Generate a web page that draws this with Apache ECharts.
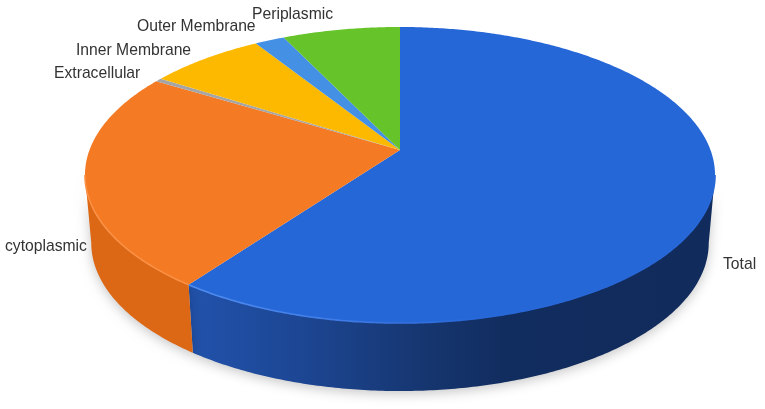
<!DOCTYPE html>
<html>
<head>
<meta charset="utf-8">
<style>
html,body{margin:0;padding:0;background:#fff}
#c{width:765px;height:409px;filter:blur(0.45px)}
</style>
<script src="https://cdn.jsdelivr.net/npm/echarts@6/dist/echarts.min.js"></script>
</head>
<body>
<div id="c"></div>
<script>
const categories = ['Total','cytoplasmic','Extracellular','Inner Membrane','Outer Membrane','Periplasmic'];
const values = [60.0,23.7,0.4,7.0,1.8,7.1];
const colors = ['#2667d8','#f47a23','#a5a5a5','#fdb900','#4490e4','#66c42a'];
const sideColors = [null,'#dc6714','#8a8a8a','#d29a00','#3775bd','#529e22'];
const labelAnchors = [[723,265],[5,247],[54,74],[76,51],[137,27],[252,15]];

const cx=400, cy=150, a=310.5, b=143.8, k=0.169, depth=68, shrink=0.98;
const frontStart=99.7*Math.PI/180, frontEnd=260.3*Math.PI/180;
const total=values.reduce((s,v)=>s+v,0);
function rim(th){
  const u=Math.sin(th), v=Math.cos(th), w=1+k*v;
  return [cx+a*u/w, cy-b*v/w];
}
function lower(p){ return [cx+(p[0]-cx)*shrink, p[1]+depth]; }
function arc(t0,t1){
  const n=Math.max(2,Math.ceil((t1-t0)/0.01)), pts=[];
  for(let i=0;i<=n;i++) pts.push(rim(t0+(t1-t0)*i/n));
  return pts;
}
const blueSide={type:'linear',x:190,y:0,x2:710,y2:0,global:true,colorStops:[
  {offset:0,color:'#2152ab'},{offset:0.2,color:'#1d4795'},{offset:0.45,color:'#163670'},
  {offset:0.62,color:'#112c5e'},{offset:1,color:'#112b5c'}]};
const blueRim={type:'linear',x:190,y:0,x2:710,y2:0,global:true,colorStops:[
  {offset:0,color:'#4f8cf0'},{offset:0.3,color:'#3f7be6'},{offset:0.55,color:'#2767d8'},{offset:1,color:'#2767d8'}]};

function renderItem(params,api){
  const i=params.dataIndex;
  let before=0;
  for(let j=0;j<i;j++) before+=values[j];
  const t0=before/total*2*Math.PI, t1=(before+api.value(0))/total*2*Math.PI;
  const children=[];
  const s0=Math.max(t0,frontStart), s1=Math.min(t1,frontEnd);
  if(s1>s0){
    const top=arc(s0,s1);
    const bot=top.map(lower).reverse();
    children.push({type:'polygon',z2:1,shape:{points:top.concat(bot)},
      style:{fill:i===0?blueSide:sideColors[i],shadowBlur:12,shadowColor:'rgba(0,0,0,0.22)',shadowOffsetY:3}});
    children.push({type:'polyline',z2:3,shape:{points:top},
      style:{fill:'none',stroke:i===0?blueRim:'#fa9146',lineWidth:1.6}});
  }
  children.push({type:'polygon',z2:2,shape:{points:[[cx,cy]].concat(arc(t0,t1))},
    style:{fill:colors[i]}});
  children.push({type:'text',z2:4,x:labelAnchors[i][0],y:labelAnchors[i][1],
    style:{text:categories[i],fill:'#333',font:'15.7px "Liberation Sans", Arial, sans-serif',
      textAlign:'left',textVerticalAlign:'middle'}});
  return {type:'group',children};
}
const chart=echarts.init(document.getElementById('c'),null,{renderer:'canvas',width:765,height:409});
chart.setOption({
  animation:false,
  backgroundColor:'#fff',
  series:[{type:'custom',coordinateSystem:'none',renderItem,data:values.map(v=>[v]),silent:true}]
});
</script>
</body>
</html>
